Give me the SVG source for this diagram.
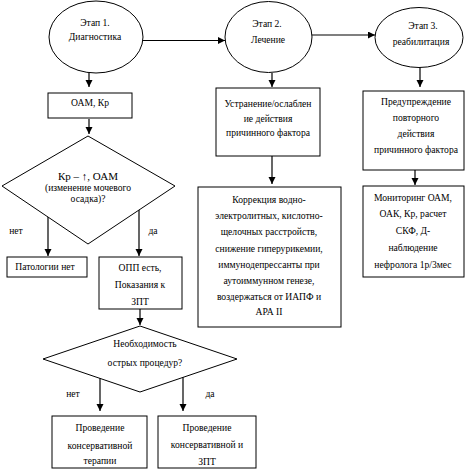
<svg xmlns="http://www.w3.org/2000/svg" width="466" height="469" viewBox="0 0 466 469">
<style>
.s{fill:#fff;stroke:#000;stroke-width:1}
.t{font-family:'Liberation Serif','Times New Roman',serif;font-size:9.6px;fill:#000;text-anchor:middle}
.c line{stroke:#000;stroke-width:1.2;fill:none}
</style>
<defs>
<marker id="a" markerUnits="userSpaceOnUse" markerWidth="8" markerHeight="8" refX="7" refY="3.5" orient="auto"><path d="M0,0 L7,3.5 L0,7 Z" fill="#000"/></marker>
</defs>
<rect width="466" height="469" fill="#fff"/>
<g class="c" id="connectors">
<line x1="143" y1="40.5" x2="225" y2="40.5" marker-end="url(#a)"/>
<line x1="312" y1="35" x2="375" y2="35" marker-end="url(#a)"/>
<line x1="89" y1="73" x2="89" y2="87" marker-end="url(#a)"/>
<line x1="89" y1="119" x2="89" y2="134" marker-end="url(#a)"/>
<line x1="48" y1="213" x2="48" y2="256" marker-end="url(#a)"/>
<line x1="139" y1="207" x2="139" y2="256" marker-end="url(#a)"/>
<line x1="272" y1="73" x2="272" y2="87" marker-end="url(#a)"/>
<line x1="272" y1="156" x2="272" y2="184" marker-end="url(#a)"/>
<line x1="420" y1="67" x2="420" y2="87" marker-end="url(#a)"/>
<line x1="415" y1="170" x2="415" y2="185" marker-end="url(#a)"/>
<line x1="140" y1="309" x2="140" y2="325" marker-end="url(#a)"/>
<line x1="100" y1="370" x2="100" y2="411" marker-end="url(#a)"/>
<line x1="183" y1="370" x2="183" y2="411" marker-end="url(#a)"/>
</g>
<g id="e1"><ellipse class="s" cx="96" cy="37" rx="47" ry="36"/>
<text class="t" x="95" y="26">Этап 1.</text><text class="t" x="95" y="40">Диагностика</text></g>
<g id="e2"><ellipse class="s" cx="268.5" cy="37" rx="43.5" ry="35.5"/>
<text class="t" x="267" y="27">Этап 2.</text><text class="t" x="268" y="43">Лечение</text></g>
<g id="e3"><ellipse class="s" cx="419" cy="37.5" rx="44" ry="30"/>
<text class="t" x="423" y="29">Этап 3.</text><text class="t" x="421" y="45">реабилитация</text></g>
<g id="b1"><rect class="s" x="48" y="93" width="84" height="25"/>
<text class="t" x="90" y="106">ОАМ, Кр</text></g>
<g id="d1"><path class="s" d="M88,136 L175,186 L88,244 L2,186 Z"/>
<text class="t" x="88" y="180" style="font-size:11px">Кр – ↑, ОАМ</text>
<text class="t" x="88" y="191">(изменение мочевого</text>
<text class="t" x="88" y="202">осадка)?</text></g>
<g id="l1"><text class="t" x="16" y="234">нет</text><text class="t" x="153" y="234">да</text></g>
<g id="b2"><rect class="s" x="7" y="257" width="80" height="20"/>
<text class="t" x="45" y="270">Патологии нет</text></g>
<g id="b3"><rect class="s" x="99" y="257" width="83" height="52"/>
<text class="t" x="140" y="271">ОПП есть,</text><text class="t" x="140" y="288">Показания к</text><text class="t" x="140" y="305">ЗПТ</text></g>
<g id="d2"><path class="s" d="M140,326 L237,359 L140,392 L43,359 Z"/>
<text class="t" x="145" y="347">Необходимость</text>
<text class="t" x="145" y="366">острых процедур?</text></g>
<g id="l2"><text class="t" x="73" y="397">нет</text><text class="t" x="210" y="397">да</text></g>
<g id="b4"><rect class="s" x="52" y="416" width="95" height="52"/>
<text class="t" x="100" y="431">Проведение</text><text class="t" x="100" y="449">консервативной</text><text class="t" x="100" y="464">терапии</text></g>
<g id="b5"><rect class="s" x="158" y="416" width="98" height="52"/>
<text class="t" x="207" y="431">Проведение</text><text class="t" x="207" y="448">консервативной и</text><text class="t" x="207" y="465">ЗПТ</text></g>
<g id="b6"><rect class="s" x="216" y="88" width="104" height="68"/>
<text class="t" x="268" y="107">Устранение/ослаблен</text><text class="t" x="268" y="122">ие действия</text><text class="t" x="268" y="136">причинного фактора</text></g>
<g id="b7"><rect class="s" x="198" y="187" width="143" height="140"/>
<text class="t" x="269" y="203">Коррекция водно-</text>
<text class="t" x="269" y="219">электролитных, кислотно-</text>
<text class="t" x="269" y="235">щелочных расстройств,</text>
<text class="t" x="269" y="252">снижение гиперурикемии,</text>
<text class="t" x="269" y="268">иммунодепрессанты при</text>
<text class="t" x="269" y="284">аутоиммунном генезе,</text>
<text class="t" x="269" y="300">воздержаться от ИАПФ и</text>
<text class="t" x="269" y="315">АРА II</text></g>
<g id="b8"><rect class="s" x="363" y="91" width="101" height="79"/>
<text class="t" x="416" y="105">Предупреждение</text><text class="t" x="416" y="121">повторного</text><text class="t" x="416" y="137">действия</text><text class="t" x="416" y="153">причинного фактора</text></g>
<g id="b9"><rect class="s" x="363" y="186" width="101" height="91"/>
<text class="t" x="413" y="201">Мониторинг ОАМ,</text><text class="t" x="413" y="217">ОАК, Кр, расчет</text><text class="t" x="413" y="234">СКФ, Д-</text><text class="t" x="413" y="251">наблюдение</text><text class="t" x="413" y="268">нефролога  1р/3мес</text></g>
</svg>
